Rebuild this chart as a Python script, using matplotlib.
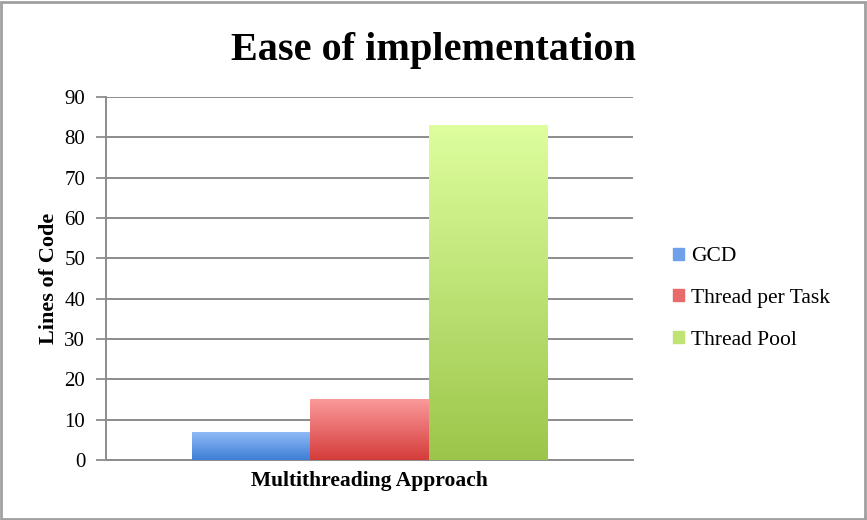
import matplotlib
matplotlib.use("Agg")
import matplotlib.pyplot as plt
import numpy as np
from matplotlib.colors import LinearSegmentedColormap
from matplotlib.patches import Rectangle

categories = ["Multithreading Approach"]
series = ["GCD", "Thread per Task", "Thread Pool"]
values = [7, 15, 83]
yticks = [0, 10, 20, 30, 40, 50, 60, 70, 80, 90]
top_colors = ["#93bcf7", "#fb9a9a", "#defe9e"]
bottom_colors = ["#3d7ed6", "#d43c3a", "#9bc64a"]
legend_colors = ["#6fa0ea", "#e86a6a", "#bfe474"]

serif = ["Liberation Serif", "DejaVu Serif"]

fig = plt.figure(figsize=(8.67, 5.2), dpi=100)
ax = fig.add_axes([0.1223, 0.1154, 0.6078, 0.6981])

bw = 0.2245
offsets = [-bw, 0, bw]
for s, v, off, tc, bc in zip(series, values, offsets, top_colors, bottom_colors):
    b = ax.bar(0 + off, v, width=bw, color=bc, label=s, zorder=2, linewidth=0)[0]
    cmap = LinearSegmentedColormap.from_list(s, [bc, tc])
    grad = np.linspace(0, 1, 256).reshape(-1, 1)
    im = ax.imshow(grad, cmap=cmap, aspect="auto", origin="lower",
                   extent=[b.get_x(), b.get_x() + b.get_width(), 0, v], zorder=3)
    im.set_clip_path(b)

ax.set_xlim(-0.5, 0.5)
ax.set_ylim(0, 90)
ax.set_yticks(yticks)
ax.set_yticklabels([str(t) for t in yticks], fontsize=15, family=serif)
ax.set_xticks([0])
ax.set_xticklabels(categories, fontsize=15.5, fontweight="bold", family=serif)
ax.tick_params(axis="x", length=0, pad=8)
ax.tick_params(axis="y", length=7, width=1.3, color="#8c8c8c", pad=8)
ax.yaxis.grid(True, color="#8c8c8c", linewidth=1.4, zorder=0)
ax.set_axisbelow(True)
for sp in ["top", "right"]:
    ax.spines[sp].set_visible(False)
ax.spines["left"].set_color("#8c8c8c")
ax.spines["left"].set_linewidth(1.4)
ax.spines["bottom"].set_color("#8c8c8c")
ax.spines["bottom"].set_linewidth(1.4)
ax.set_ylabel("Lines of Code", fontsize=16, fontweight="bold", family=serif, labelpad=4)

fig.suptitle("Ease of implementation", x=0.5, y=0.938, fontsize=29,
             fontweight="bold", family=serif)

handles = [Rectangle((0, 0), 1, 1, color=c) for c in legend_colors]
leg = ax.legend(handles, series, loc="center left", bbox_to_anchor=(1.04, 0.445),
                frameon=False, prop={"family": serif, "size": 15.5},
                handlelength=0.5, handleheight=0.5, handletextpad=0.3,
                labelspacing=1.05)

border = Rectangle((0.001, 0.002), 0.997, 0.995, transform=fig.transFigure,
                   fill=False, edgecolor="#a0a0a0", linewidth=2)
fig.patches.append(border)

fig.savefig("out.png", dpi=100)
